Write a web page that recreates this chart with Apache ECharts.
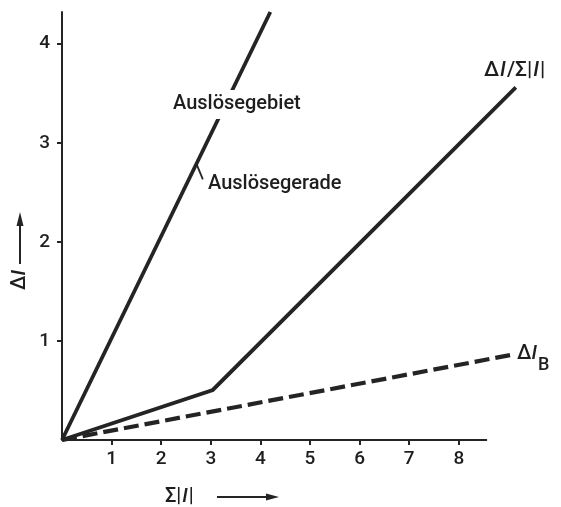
<!DOCTYPE html>
<html>
<head>
<meta charset="utf-8">
<script src="https://cdn.jsdelivr.net/npm/echarts@6/dist/echarts.min.js"></script>
<style>
html,body{margin:0;padding:0;background:#fff;}
#chart{width:561px;height:507px;}
</style>
</head>
<body>
<div id="chart"></div>
<script>
// ---- data ----
const xTicks = [1, 2, 3, 4, 5, 6, 7, 8];
const yTicks = [1, 2, 3, 4];
const xMax = 10;          // plotting range (lines run past the drawn axis)
const xAxisEnd = 8.57;    // where the drawn x axis line ends
const yMax = 4.32;
// Auslösegerade (steep line)
const geradeX = [0, 4.2];
const geradeY = [0, 4.32];
// ΔI / Σ|I| (kinked line)
const ratioX = [0, 3.04, 9.15];
const ratioY = [0, 0.505, 3.56];
// ΔI_B (dashed)
const bX = [0, 9.07];
const bY = [0, 0.86];
// leader for "Auslösegerade"
const leaderX = [2.7, 2.84];
const leaderY = [2.8, 2.63];
// x axis line
const axisX = [0, xAxisEnd];
const axisY = [0, 0];

const pairs = (xs, ys) => xs.map((x, i) => [x, ys[i]]);
const INK = '#242424';
const TXT = '#1e1e1e';
const FONT = 'Roboto';
const FW = 500;

const chart = echarts.init(document.getElementById('chart'), null, {renderer: 'canvas'});

function lineSeries(data, width, type, z) {
  return {
    type: 'line',
    data: data,
    showSymbol: false,
    symbol: 'none',
    silent: true,
    z: z || 2,
    lineStyle: {color: INK, width: width, type: type || 'solid', cap: 'butt', join: 'miter'}
  };
}

const option = {
  animation: false,
  backgroundColor: '#ffffff',
  grid: {left: 62, top: 12, width: 496, height: 428, containLabel: false},
  xAxis: {
    type: 'value', min: 0, max: xMax, interval: 1,
    splitLine: {show: false},
    axisLine: {show: false},
    axisTick: {show: true, length: 5, customValues: xTicks, lineStyle: {color: INK, width: 2}},
    axisLabel: {show: true, customValues: xTicks, margin: 10, color: TXT, fontFamily: FONT, fontWeight: FW, fontSize: 19}
  },
  yAxis: {
    type: 'value', min: 0, max: yMax, interval: 1,
    splitLine: {show: false},
    axisLine: {show: true, onZero: false, lineStyle: {color: INK, width: 2}},
    axisTick: {show: true, length: 5, customValues: yTicks, lineStyle: {color: INK, width: 2}},
    axisLabel: {show: true, customValues: yTicks, margin: 12, color: TXT, fontFamily: FONT, fontWeight: FW, fontSize: 19}
  },
  series: [
    lineSeries(pairs(axisX, axisY), 2),
    lineSeries(pairs(geradeX, geradeY), 3.8),
    lineSeries(pairs(ratioX, ratioY), 3.8),
    lineSeries(pairs(bX, bY), 4.2, [15, 6]),
    lineSeries(pairs(leaderX, leaderY), 1.8)
  ],
  graphic: [
    {type: 'text', left: 173, top: 90, z: 100, style: {text: 'Auslösegebiet', fontFamily: FONT, fontWeight: FW, fontSize: 20, fill: TXT,
      backgroundColor: '#ffffff', padding: [4, 0, 5, 0]}},
    {type: 'text', left: 208, top: 174, z: 100, style: {text: 'Auslösegerade', fontFamily: FONT, fontWeight: FW, fontSize: 20, fill: TXT}},
    {type: 'text', left: 484, top: 60, z: 100, style: {
      text: '{n|Δ}{i|I}{n|/Σ|}{i|I}{n||}',
      rich: {
        n: {fontFamily: FONT, fontWeight: FW, fontSize: 21, fill: TXT},
        i: {fontFamily: FONT, fontWeight: FW, fontSize: 21, fontStyle: 'italic', fill: TXT, padding: [0, 1, 0, 1]}
      }
    }},
    {type: 'text', left: 517, top: 344, z: 100, style: {
      text: '{n|Δ}{i|I}{s|B}',
      rich: {
        n: {fontFamily: FONT, fontWeight: FW, fontSize: 20, fill: TXT, verticalAlign: 'top'},
        i: {fontFamily: FONT, fontWeight: FW, fontSize: 20, fontStyle: 'italic', fill: TXT, verticalAlign: 'top'},
        s: {fontFamily: FONT, fontWeight: FW, fontSize: 18, fill: TXT, padding: [12, 0, 0, 1], verticalAlign: 'top'}
      }
    }},
    // x axis name
    {type: 'text', x: 165, y: 497, style: {
      text: '{n|Σ|}{i|I}{n||}', verticalAlign: 'middle',
      rich: {
        n: {fontFamily: FONT, fontWeight: FW, fontSize: 20, fill: TXT},
        i: {fontFamily: FONT, fontWeight: FW, fontSize: 20, fontStyle: 'italic', fill: TXT, padding: [0, 1, 0, 1]}
      }
    }},
    {type: 'line', shape: {x1: 217, y1: 497, x2: 268, y2: 497}, style: {stroke: INK, lineWidth: 2}},
    {type: 'polygon', shape: {points: [[279, 497], [266, 493.5], [266, 500.5]]}, style: {fill: INK}},
    // y axis name
    {type: 'text', x: 20, y: 280, rotation: Math.PI / 2, style: {
      text: '{n|Δ}{i|I}', align: 'center', verticalAlign: 'middle',
      rich: {
        n: {fontFamily: FONT, fontWeight: FW, fontSize: 20, fill: TXT},
        i: {fontFamily: FONT, fontWeight: FW, fontSize: 20, fontStyle: 'italic', fill: TXT}
      }
    }},
    {type: 'line', shape: {x1: 20, y1: 264, x2: 20, y2: 224}, style: {stroke: INK, lineWidth: 2}},
    {type: 'polygon', shape: {points: [[20, 212], [16.5, 226], [23.5, 226]]}, style: {fill: INK}}
  ]
};
chart.setOption(option);
</script>
</body>
</html>
